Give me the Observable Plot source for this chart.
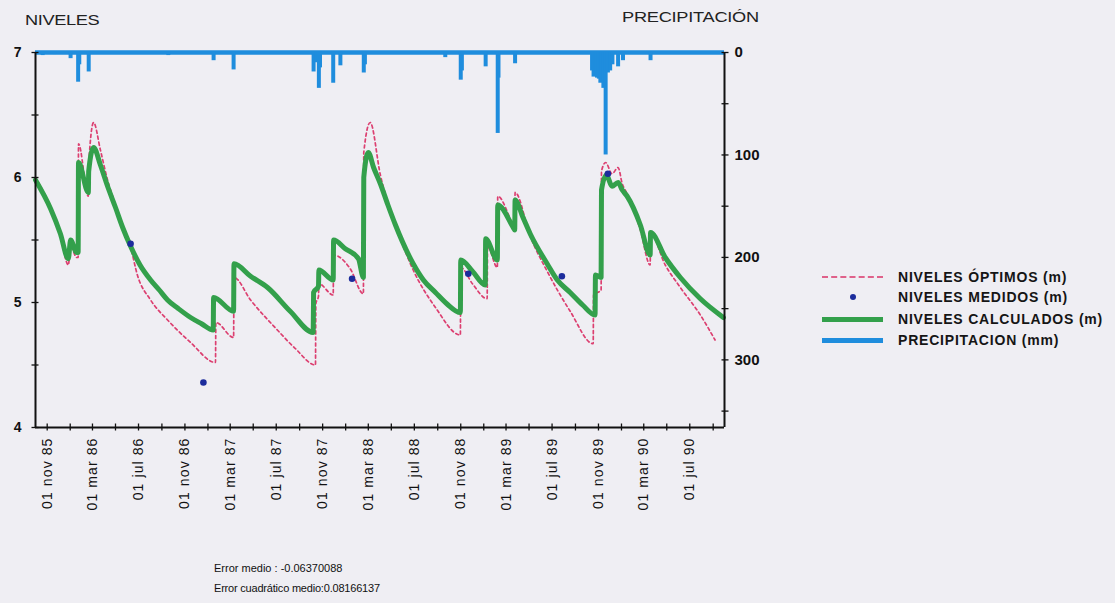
<!DOCTYPE html>
<html>
<head>
<meta charset="utf-8">
<script src="https://cdn.jsdelivr.net/npm/d3@7"></script>
<script src="https://cdn.jsdelivr.net/npm/@observablehq/plot@0.6"></script>
<style>
  html, body { margin: 0; padding: 0; background: #efeef3; }
  #wrap { position: relative; width: 1115px; height: 603px; font-family: "Liberation Sans", Arial, sans-serif; color: #111; }
  #wrap svg { position: absolute; left: 0; top: 0; }
  #wrap svg [aria-label="x-axis tick label"] text { letter-spacing: 1.1px; }
  .lbl { position: absolute; white-space: nowrap; line-height: 1; }
  .top { transform: scaleX(1.3); transform-origin: left center; color: #222; }
  .leg { position: absolute; left: 898px; font-weight: bold; font-size: 14px; white-space: nowrap; line-height: 1; transform: translateY(-50%); letter-spacing: 0.8px; color: #151515; }
  .sw { position: absolute; left: 822px; width: 61px; }
</style>
</head>
<body>
<div id="wrap"></div>
<script>
// ---------- DATA ----------
// NIVELES CALCULADOS (m)
const calcDates = ["1985-10-01","1985-11-10","1985-12-06","1985-12-27","1986-01-02","1986-01-18","1986-01-22","1986-01-23","1986-02-18","1986-02-19","1986-03-04","1986-03-22","1986-04-10","1986-05-01","1986-05-20","1986-06-10","1986-07-05","1986-08-02","1986-08-25","1986-09-16","1986-10-15","1986-11-16","1986-12-15","1987-01-15","1987-01-16","1987-03-10","1987-03-11","1987-04-24","1987-06-08","1987-08-07","1987-10-07","1987-10-08","1987-10-21","1987-10-22","1987-11-29","1987-11-30","1987-12-31","1988-02-04","1988-02-17","1988-02-18","1988-03-01","1988-03-15","1988-04-02","1988-04-22","1988-05-12","1988-06-28","1988-07-25","1988-08-26","1988-09-25","1988-10-31","1988-11-01","1988-12-02","1989-01-05","1989-01-06","1989-02-06","1989-02-07","1989-03-20","1989-03-24","1989-03-25","1989-04-15","1989-05-04","1989-06-18","1989-07-15","1989-08-18","1989-09-20","1989-10-23","1989-10-24","1989-11-08","1989-11-09","1989-11-22","1989-12-07","1989-12-23","1990-01-03","1990-01-16","1990-02-20","1990-03-18","1990-03-19","1990-04-27","1990-06-06","1990-07-29","1990-09-28"];
const calcValues = [5.98,5.75,5.55,5.35,5.50,5.40,5.40,6.12,5.88,6.05,6.24,6.10,5.93,5.76,5.60,5.45,5.30,5.18,5.10,5.02,4.95,4.88,4.83,4.78,5.04,4.93,5.31,5.21,5.12,4.93,4.76,5.08,5.13,5.26,5.18,5.50,5.43,5.35,5.20,6.00,6.20,6.08,5.95,5.78,5.62,5.31,5.18,5.08,4.99,4.92,5.34,5.25,5.14,5.51,5.34,5.78,5.60,5.58,5.82,5.68,5.55,5.31,5.18,5.08,4.98,4.90,5.22,5.20,5.90,6.02,5.93,5.96,5.90,5.85,5.62,5.38,5.56,5.36,5.20,5.03,4.88];

// NIVELES ÓPTIMOS (m)
const optDates = ["1985-10-01","1985-11-10","1985-12-06","1985-12-27","1986-01-02","1986-01-18","1986-01-22","1986-01-23","1986-02-18","1986-02-19","1986-03-04","1986-03-22","1986-04-10","1986-05-01","1986-05-20","1986-06-10","1986-06-28","1986-08-02","1986-09-16","1986-11-16","1987-01-21","1987-01-22","1987-03-10","1987-03-11","1987-04-24","1987-07-04","1987-08-21","1987-10-13","1987-10-14","1987-10-21","1987-10-22","1987-11-29","1987-11-30","1988-01-13","1988-02-17","1988-02-18","1988-03-06","1988-04-02","1988-05-12","1988-06-28","1988-08-26","1988-10-31","1988-11-01","1988-12-02","1989-01-10","1989-01-11","1989-02-06","1989-02-07","1989-03-20","1989-03-24","1989-03-25","1989-05-04","1989-06-18","1989-08-18","1989-10-18","1989-10-19","1989-11-08","1989-11-09","1989-11-20","1989-12-07","1989-12-23","1990-01-03","1990-01-16","1990-02-20","1990-03-18","1990-03-19","1990-04-27","1990-06-06","1990-07-29","1990-09-06"];
const optValues = [6.00,5.76,5.54,5.30,5.45,5.36,5.36,6.27,5.85,6.10,6.44,6.22,5.98,5.78,5.60,5.44,5.22,5.02,4.86,4.68,4.52,4.84,4.72,5.20,5.02,4.78,4.63,4.50,4.99,5.05,5.15,5.06,5.38,5.27,5.07,6.20,6.44,6.02,5.62,5.26,4.96,4.74,5.28,5.15,5.03,5.45,5.28,5.85,5.62,5.60,5.88,5.53,5.25,4.93,4.67,5.06,5.10,6.05,6.12,6.03,6.08,5.95,5.87,5.58,5.30,5.55,5.30,5.12,4.90,4.70];

// NIVELES MEDIDOS (m)
const medDates = ["1986-06-10","1986-12-20","1988-01-18","1988-11-21","1989-07-27","1989-11-26"];
const medValues = [5.47,4.36,5.19,5.23,5.21,6.03];

// PRECIPITACION (mm)
const precipDates = ["1985-10-20","1985-11-20","1986-01-02","1986-01-22","1986-01-25","1986-02-19","1986-09-18","1987-01-16","1987-03-10","1987-10-08","1987-10-15","1987-10-22","1987-10-25","1987-11-29","1987-12-18","1988-02-18","1988-02-21","1988-09-21","1988-11-01","1988-11-04","1989-01-06","1989-02-07","1989-02-09","1989-03-25","1989-10-15","1989-10-19","1989-10-24","1989-10-28","1989-11-02","1989-11-06","1989-11-09","1989-11-14","1989-11-20","1989-11-26","1989-12-02","1989-12-08","1989-12-23","1990-01-05","1990-03-19"];
const precipValues = [3,2,6,29,12,19,3,8,17,19,10,35,15,30,13,20,12,5,27,18,14,79,25,11,18,24,22,25,26,30,22,35,100,20,18,12,14,8,8];

// Axis tick labels
const xLabelDates = ["1985-11-01","1986-03-01","1986-07-01","1986-11-01","1987-03-01","1987-07-01","1987-11-01","1988-03-01","1988-07-01","1988-11-01","1989-03-01","1989-07-01","1989-11-01","1990-03-01","1990-07-01"];
const xLabels = ["01 nov 85","01 mar 86","01 jul 86","01 nov 86","01 mar 87","01 jul 87","01 nov 87","01 mar 88","01 jul 88","01 nov 88","01 mar 89","01 jul 89","01 nov 89","01 mar 90","01 jul 90"];
const levelLabels = [4, 5, 6, 7];
const levelMinorTicks = [4, 4.5, 5, 5.5, 6, 6.5, 7];
const precipLabels = [0, 100, 200, 300];
const precipMinorTicks = [0, 50, 100, 150, 200, 250, 300, 350];

// ---------- SCALES / HELPERS ----------
const xStart = new Date("1985-10-01"), xEnd = new Date("1990-10-01");
const levelTop = 7, levelBottom = 4, precipSpan = 366; // mm from top to bottom of frame
const toLevel = mm => levelTop - mm * (levelTop - levelBottom) / precipSpan;
const toMm = lv => Math.round((levelTop - lv) * precipSpan / (levelTop - levelBottom));

const calc = calcDates.map((d, i) => ({date: new Date(d), v: calcValues[i]}));
const opt = optDates.map((d, i) => ({date: new Date(d), v: optValues[i]}));
const med = medDates.map((d, i) => ({date: new Date(d), v: medValues[i]}));
const precip = precipDates.map((d, i) => ({date: new Date(d), mm: precipValues[i]}));
const labelMap = new Map(xLabelDates.map((d, i) => [+new Date(d), xLabels[i]]));
const xMinorTicks = d3.utcMonth.every(2).range(new Date("1985-11-01"), xEnd);

const BLUE = "#1f8ddd", GREEN = "#33a04b", RED = "#dc3f70", DOT = "#1c2c9c";

const chart = Plot.plot({
  width: 1115,
  height: 603,
  marginLeft: 35,
  marginRight: 391,
  marginTop: 52,
  marginBottom: 176,
  style: {background: "transparent", fontFamily: "Liberation Sans, Arial, sans-serif", color: "#111", overflow: "visible"},
  x: {type: "utc", domain: [xStart, xEnd]},
  y: {domain: [levelBottom, levelTop]},
  marks: [
    // precipitation (hanging from top, right axis)
    Plot.ruleY([0], {y: toLevel, stroke: BLUE, strokeWidth: 4.5}),
    Plot.ruleX(precip, {x: "date", y1: levelTop, y2: d => toLevel(d.mm), stroke: BLUE, strokeWidth: 4}),
    // optimum levels
    Plot.line(opt, {x: "date", y: "v", curve: "monotone-x", stroke: RED, strokeWidth: 1.7, strokeDasharray: "3,3"}),
    // calculated levels
    Plot.line(calc, {x: "date", y: "v", curve: "monotone-x", stroke: GREEN, strokeWidth: 5, strokeLinejoin: "round"}),
    // measured levels
    Plot.dot(med, {x: "date", y: "v", r: 3.3, fill: DOT}),
    // frame lines
    Plot.ruleX([xStart], {y1: levelBottom, y2: levelTop, stroke: "#111", strokeWidth: 2}),
    Plot.ruleX([xEnd], {y1: levelBottom, y2: levelTop, stroke: "#111", strokeWidth: 2}),
    Plot.ruleY([levelBottom], {stroke: "#111", strokeWidth: 2}),
    // left axis
    Plot.axisY(levelMinorTicks, {anchor: "left", tickSize: 7, dx: 3.5, tickFormat: () => "", label: null, strokeWidth: 1.3}),
    Plot.axisY(levelLabels, {anchor: "left", tickSize: 0, tickPadding: 14, tickFormat: d => String(d), label: null, fontSize: 14, fontWeight: "bold"}),
    // right axis (precipitation)
    Plot.axisY(precipMinorTicks.map(toLevel), {anchor: "right", tickSize: 7, dx: -3.5, tickFormat: () => "", label: null, strokeWidth: 1.3}),
    Plot.axisY(precipLabels.map(toLevel), {anchor: "right", tickSize: 0, tickPadding: 10, tickFormat: v => String(toMm(v)), label: null, fontSize: 15, fontWeight: "bold"}),
    // x axis
    Plot.axisX(xMinorTicks, {anchor: "bottom", tickSize: 7, dy: -3.5, tickFormat: () => "", label: null, strokeWidth: 1.3}),
    Plot.axisX(xLabelDates.map(d => new Date(d)), {anchor: "bottom", tickSize: 0, tickPadding: 10, tickRotate: -90, tickFormat: d => labelMap.get(+d), label: null, fontSize: 14})
  ]
});

const wrap = document.getElementById("wrap");
wrap.appendChild(chart);

function addLabel(text, css, cls) {
  const el = document.createElement("div");
  el.className = "lbl" + (cls ? " " + cls : "");
  el.textContent = text;
  Object.assign(el.style, css);
  wrap.appendChild(el);
  return el;
}
addLabel("NIVELES", {left: "25px", top: "13px", fontSize: "14px", letterSpacing: "-0.3px"}, "top");
addLabel("PRECIPITACIÓN", {left: "622px", top: "10px", fontSize: "14px", letterSpacing: "-0.2px"}, "top");
addLabel("Error medio : -0.06370088", {left: "214px", top: "563px", fontSize: "11px"});
addLabel("Error cuadrático medio:0.08166137", {left: "214px", top: "583px", fontSize: "11px", letterSpacing: "-0.2px"});

// legend
const legendItems = [
  {text: "NIVELES ÓPTIMOS (m)", y: 277, kind: "dash", color: RED},
  {text: "NIVELES MEDIDOS (m)", y: 297, kind: "dot", color: DOT},
  {text: "NIVELES CALCULADOS (m)", y: 319, kind: "line", color: GREEN},
  {text: "PRECIPITACION (mm)", y: 340, kind: "line", color: BLUE}
];
for (const it of legendItems) {
  const sw = document.createElement("div");
  sw.className = "sw";
  if (it.kind === "dash") {
    Object.assign(sw.style, {top: (it.y - 1) + "px", borderTop: "2px dashed " + it.color, opacity: 0.8});
  } else if (it.kind === "dot") {
    Object.assign(sw.style, {left: "850px", width: "6px", height: "6px", borderRadius: "50%", background: it.color, top: (it.y - 3) + "px"});
  } else {
    Object.assign(sw.style, {top: (it.y - 2.5) + "px", height: "5px", background: it.color});
  }
  wrap.appendChild(sw);
  const t = document.createElement("div");
  t.className = "leg";
  t.style.top = it.y + "px";
  t.textContent = it.text;
  wrap.appendChild(t);
}
</script>
</body>
</html>
